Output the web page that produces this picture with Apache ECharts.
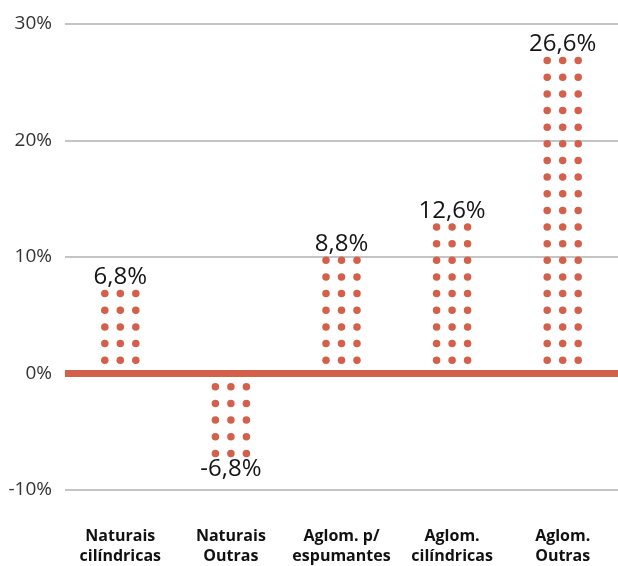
<!DOCTYPE html>
<html>
<head>
<meta charset="utf-8">
<script src="https://cdn.jsdelivr.net/npm/echarts@6/dist/echarts.min.js"></script>
<style>
	html, body { margin: 0; padding: 0; background: #fff; }
	#chart { width: 618px; height: 566px; }
</style>
</head>
<body>
<div id="chart"></div>
<script>
const categories = [
	'Naturais\ncilíndricas',
	'Naturais\nOutras',
	'Aglom. p/\nespumantes',
	'Aglom.\ncilíndricas',
	'Aglom.\nOutras'
]
const values = [6.8, -6.8, 8.8, 12.6, 26.6]
const yTicks = [-10, 0, 10, 20, 30]

const dotColor = '#d3604b'
const fmt = (v) => v.toFixed(1).replace('.', ',') + '%'

let myChart = echarts.init(document.getElementById('chart'))

// one column of dots per series, three columns side by side
const dotSeries = (col) => {
	return {
		type: 'pictorialBar',
		symbol: 'circle',
		symbolSize: [7.5, 7.5],
		symbolRepeat: true,
		symbolMargin: '4.6!',
		barWidth: 15.5,
		barGap: '0%',
		itemStyle: { color: dotColor },
		silent: true,
		label: {
			show: col === 1,
			position: 'top',
			distance: -4,
			color: '#151515',
			fontFamily: 'Open Sans',
			fontSize: 24,
			formatter: (p) => fmt(p.value)
		},
		data: values.map((v) => {
			return {
				value: v,
				symbolOffset: [0, v < 0 ? 5 : -5],
				label: v < 0 ? { position: 'bottom', distance: -5 } : {}
			}
		}),
		markLine: col === 1 ? {
			silent: true,
			symbol: 'none',
			label: { show: false },
			lineStyle: { color: dotColor, width: 7, type: 'solid' },
			data: [{ yAxis: 0 }]
		} : undefined
	}
}

let option = {
	backgroundColor: '#fff',
	animation: false,
	grid: {
		top: 24,
		left: 65,
		right: 0,
		bottom: 76
	},
	xAxis: {
		type: 'category',
		data: categories,
		axisLine: { show: false, onZero: false },
		axisTick: { show: false },
		axisLabel: {
			interval: 0,
			hideOverlap: false,
			margin: 36,
			color: '#111',
			fontFamily: 'Open Sans',
			fontWeight: 'bold',
			fontSize: 16,
			lineHeight: 20
		}
	},
	yAxis: {
		type: 'value',
		min: yTicks[0],
		max: yTicks[yTicks.length - 1],
		interval: 10,
		axisLine: { show: false },
		axisTick: { show: false },
		axisLabel: {
			margin: 13,
			color: '#333',
			fontFamily: 'Open Sans',
			fontSize: 19,
			formatter: '{value}%'
		},
		splitLine: {
			lineStyle: { color: '#c4c4c4', width: 2 }
		}
	},
	series: [dotSeries(0), dotSeries(1), dotSeries(2)]
}
myChart.setOption(option)
</script>
</body>
</html>
